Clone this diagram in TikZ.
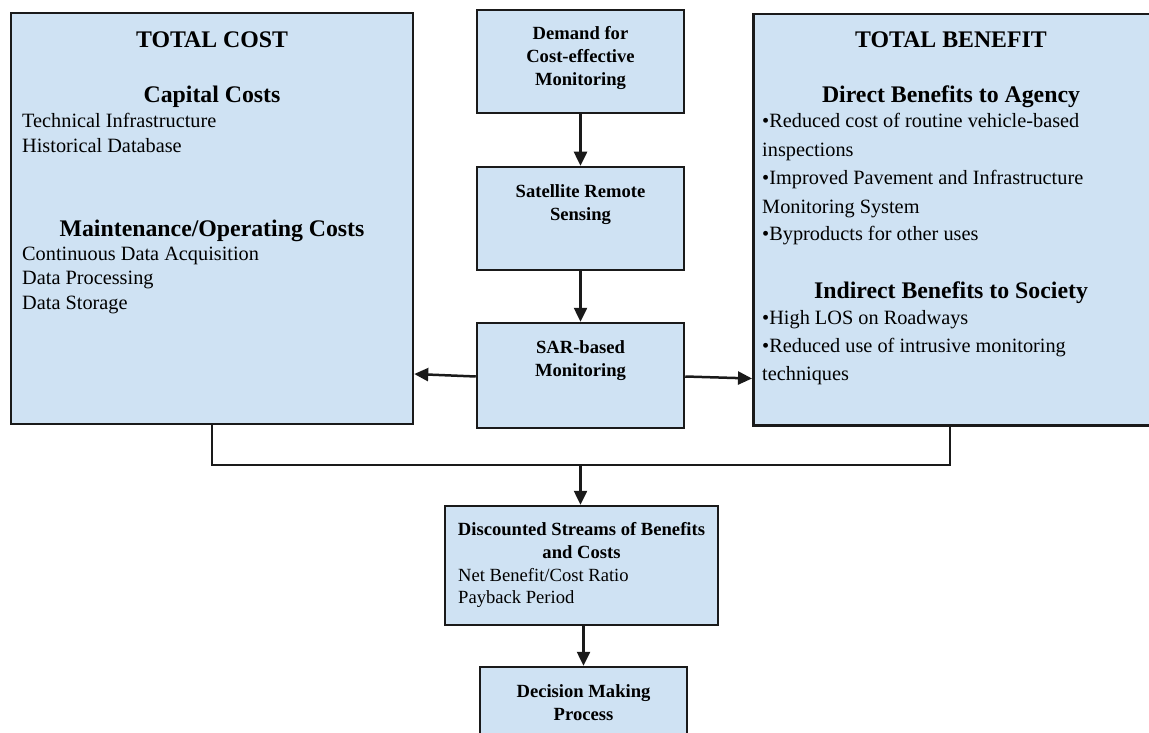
\documentclass[tikz,border=0pt]{standalone}
\usepackage{fontspec}
\setmainfont{Liberation Serif}
\usetikzlibrary{arrows.meta}
\definecolor{boxfill}{HTML}{CFE2F3}
\definecolor{edge}{HTML}{1A1A1A}
\tikzset{
  box/.style={draw=edge, fill=boxfill, line width=2.5pt, inner sep=0pt},
  link/.style={draw=edge, line width=2.5pt, -{Triangle[length=14pt,width=13pt]}},
  joinline/.style={draw=edge, line width=2.5pt},
  heading/.style={font=\fontsize{23.8}{28}\selectfont\bfseries, anchor=base, inner sep=0pt},
  bodytext/.style={font=\fontsize{20.3}{24}\selectfont, anchor=base west, inner sep=0pt},
  boxtitle/.style={font=\fontsize{18.6}{22}\selectfont\bfseries, anchor=base, inner sep=0pt},
  boxitem/.style={font=\fontsize{18.6}{22}\selectfont, anchor=base west, inner sep=0pt},
}
\begin{document}
\begin{tikzpicture}[x=1pt,y=-1pt]
\useasboundingbox (0,0) rectangle (1149,733);
\clip (0,0) rectangle (1149,733);

% boxes
\node[box, minimum width=402pt, minimum height=411pt] (cost) at (212,218.5) {};
\node[box, minimum width=420pt, minimum height=411pt, anchor=north west] (benefit) at (752,13) {};
\node[box, minimum width=207pt, minimum height=103pt] (demand) at (580.5,61.5) {};
\node[box, minimum width=207pt, minimum height=103pt] (sat) at (580.5,218.5) {};
\node[box, minimum width=207pt, minimum height=105pt] (sar) at (580.5,375.5) {};
\node[box, minimum width=273pt, minimum height=119pt] (disc) at (581.5,565.5) {};
\node[box, minimum width=207pt, minimum height=110pt] (decide) at (583.5,722) {};

% total cost
\node[heading] (tc) at (212,48) {TOTAL COST};
\node[heading] (cap) at (212,103) {Capital Costs};
\node[bodytext] (c1) at (22,128) {Technical Infrastructure};
\node[bodytext] (c2) at (22,153) {Historical Database};
\node[heading] (mo) at (212,236) {Maintenance/Operating Costs};
\node[bodytext] (c3) at (22,260) {Continuous Data Acquisition};
\node[bodytext] (c4) at (22,284.5) {Data Processing};
\node[bodytext] (c5) at (22,309) {Data Storage};

% total benefit
\node[heading] (tb) at (951,48) {TOTAL BENEFIT};
\node[heading] (db) at (951,103) {Direct Benefits to Agency};
\node[bodytext] (b1) at (762,128) {•Reduced cost of routine vehicle-based};
\node[bodytext] (b2) at (762,156.5) {inspections};
\node[bodytext] (b3) at (762,185) {•Improved Pavement and Infrastructure};
\node[bodytext] (b4) at (762,213) {Monitoring System};
\node[bodytext] (b5) at (762,240.5) {•Byproducts for other uses};
\node[heading] (ib) at (951,298) {Indirect Benefits to Society};
\node[bodytext] (b6) at (762,324) {•High LOS on Roadways};
\node[bodytext] (b7) at (762,352) {•Reduced use of intrusive monitoring};
\node[bodytext] (b8) at (762,380) {techniques};

% centre column
\node[boxtitle] (d1) at (580.5,40) {Demand for};
\node[boxtitle] (d2) at (580.5,63) {Cost-effective};
\node[boxtitle] (d3) at (580.5,86) {Monitoring};
\node[boxtitle] (s1) at (580.5,197) {Satellite Remote};
\node[boxtitle] (s2) at (580.5,220) {Sensing};
\node[boxtitle] (r1) at (580.5,353) {SAR-based};
\node[boxtitle] (r2) at (580.5,376) {Monitoring};
\node[boxtitle] (q1) at (581.5,535) {Discounted Streams of Benefits};
\node[boxtitle] (q2) at (581.5,558) {and Costs};
\node[boxitem] (q3) at (458,581) {Net Benefit/Cost Ratio};
\node[boxitem] (q4) at (458,603.5) {Payback Period};
\node[boxtitle] (m1) at (583.5,697) {Decision Making};
\node[boxtitle] (m2) at (583.5,720) {Process};

% connectors
\draw[link] (demand) -- (sat);
\draw[link] (sat) -- (sar);
\draw[link] ([yshift=-1pt]sar.west) -- ([yshift=1.5pt]cost.east |- sar.west);
\draw[link] ([yshift=-1pt]sar.east) -- ([yshift=-3pt]benefit.west |- sar.east);
\coordinate (join) at (580.5,465);
\draw[joinline] (cost.south) |- (join) -| ([xshift=5pt]benefit.south -| 945,0);
\draw[link] (join) -- (disc.north -| join);
\draw[link] (disc.south -| decide.north) -- (decide.north);
\end{tikzpicture}
\end{document}
